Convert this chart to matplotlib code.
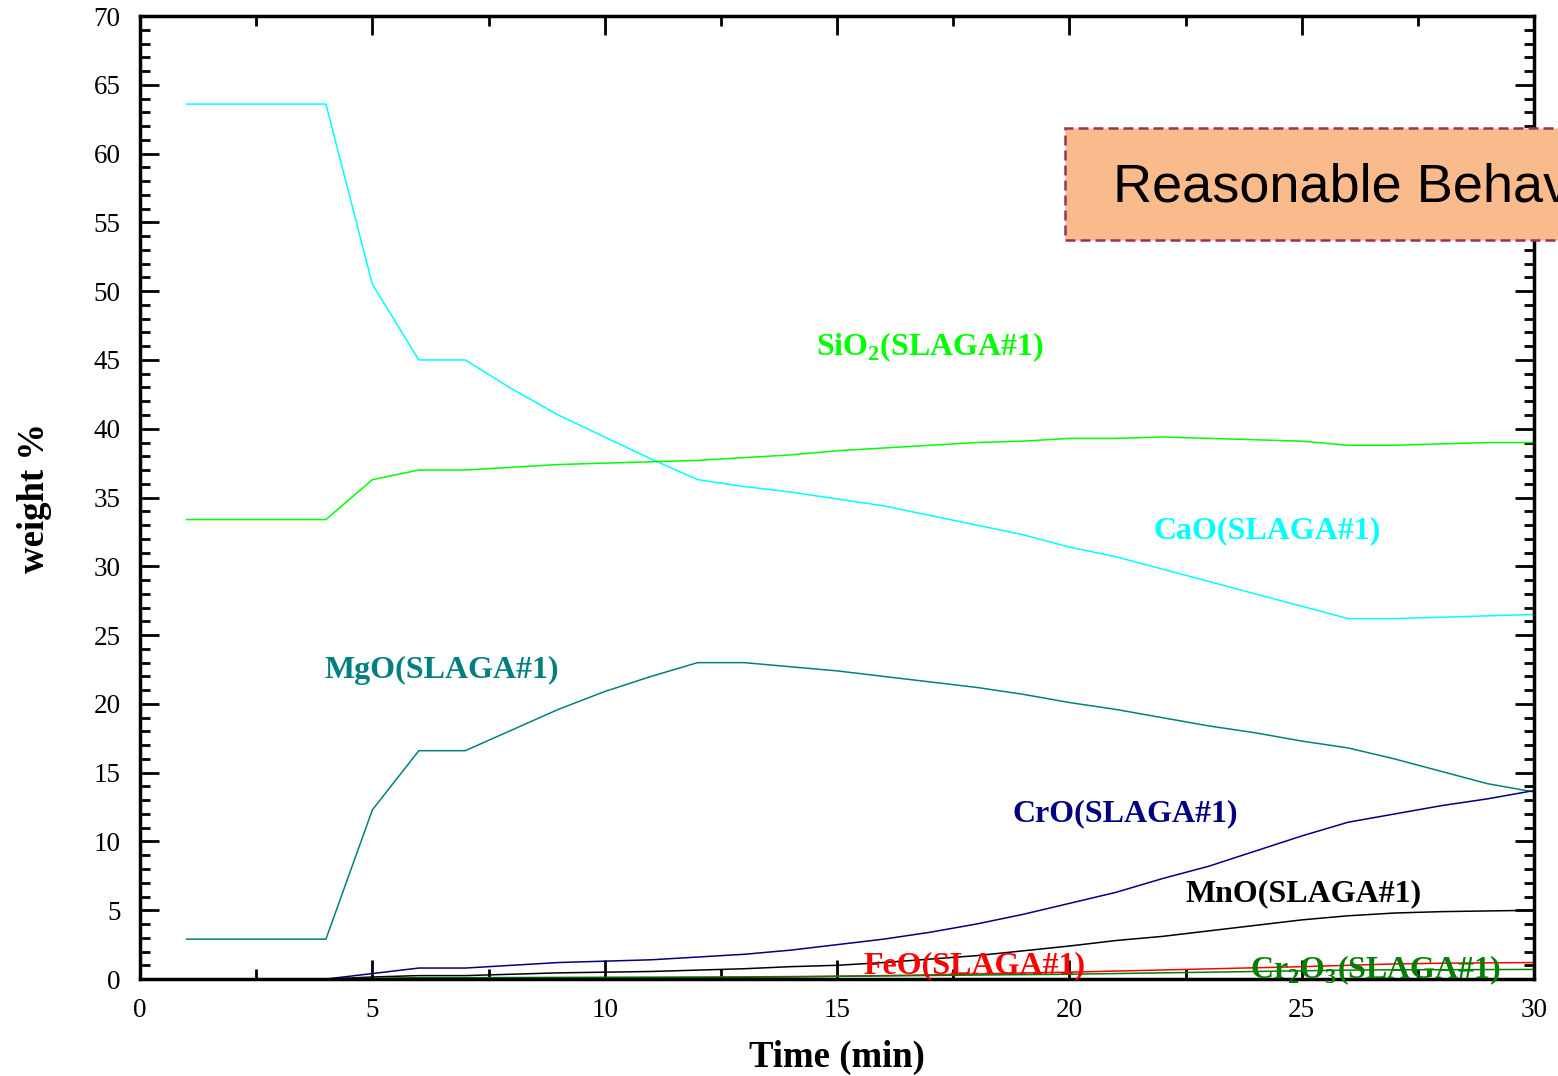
import matplotlib.pyplot as plt
from matplotlib.patches import Rectangle
from matplotlib.ticker import MultipleLocator

TIME = list(range(1, 31))

CAO = [63.6, 63.6, 63.6, 63.6, 50.5, 45.0, 45.0, 42.9, 41.0, 39.4,
       37.8, 36.3, 35.8, 35.4, 34.9, 34.4, 33.7, 33.0, 32.3, 31.4,
       30.7, 29.8, 28.9, 28.0, 27.1, 26.2, 26.2, 26.3, 26.4, 26.5]
SIO2 = [33.4, 33.4, 33.4, 33.4, 36.3, 37.0, 37.0, 37.2, 37.4, 37.5,
        37.6, 37.7, 37.9, 38.1, 38.4, 38.6, 38.8, 39.0, 39.1, 39.3,
        39.3, 39.4, 39.3, 39.2, 39.1, 38.8, 38.8, 38.9, 39.0, 39.0]
MGO = [2.9, 2.9, 2.9, 2.9, 12.3, 16.6, 16.6, 18.1, 19.6, 20.9,
       22.0, 23.0, 23.0, 22.7, 22.4, 22.0, 21.6, 21.2, 20.7, 20.1,
       19.6, 19.0, 18.4, 17.9, 17.3, 16.8, 16.0, 15.1, 14.2, 13.6]
CRO = [0.0, 0.0, 0.0, 0.0, 0.4, 0.8, 0.8, 1.0, 1.2, 1.3,
       1.4, 1.6, 1.8, 2.1, 2.5, 2.9, 3.4, 4.0, 4.7, 5.5,
       6.3, 7.3, 8.2, 9.3, 10.4, 11.4, 12.0, 12.6, 13.1, 13.7]
MNO = [0.0, 0.0, 0.0, 0.0, 0.15, 0.25, 0.25, 0.35, 0.45, 0.5,
       0.55, 0.65, 0.75, 0.9, 1.0, 1.2, 1.45, 1.7, 2.05, 2.4,
       2.8, 3.1, 3.5, 3.9, 4.3, 4.6, 4.8, 4.9, 4.95, 5.0]
FEO = [0.0, 0.0, 0.0, 0.0, 0.02, 0.05, 0.05, 0.06, 0.07, 0.08,
       0.09, 0.1, 0.12, 0.15, 0.2, 0.25, 0.3, 0.37, 0.44, 0.5,
       0.58, 0.66, 0.74, 0.82, 0.9, 1.0, 1.1, 1.15, 1.18, 1.2]
CR2O3 = [0.0, 0.0, 0.0, 0.0, 0.05, 0.1, 0.1, 0.11, 0.12, 0.13,
         0.14, 0.15, 0.16, 0.18, 0.2, 0.23, 0.26, 0.29, 0.32, 0.35,
         0.4, 0.45, 0.5, 0.55, 0.6, 0.65, 0.67, 0.68, 0.69, 0.7]

# (values, colour, label, label position in data coords)
SERIES = [
    (CAO, '#00ffff', 'CaO(SLAGA#1)', (24.25, 32.6)),
    (SIO2, '#00ff00', r'SiO$_\mathbf{2}$(SLAGA#1)', (17.0, 45.9)),
    (MGO, '#008080', 'MgO(SLAGA#1)', (6.5, 22.4)),
    (CRO, '#000080', 'CrO(SLAGA#1)', (21.2, 12.0)),
    (MNO, '#000000', 'MnO(SLAGA#1)', (25.05, 6.2)),
    (FEO, '#ff0000', 'FeO(SLAGA#1)', (17.95, 0.95)),
    (CR2O3, '#008000', r'Cr$_\mathbf{2}$O$_\mathbf{3}$(SLAGA#1)', (26.6, 0.65)),
]

plt.rcParams['font.family'] = ['Liberation Serif', 'DejaVu Serif']
plt.rcParams['mathtext.fontset'] = 'custom'
plt.rcParams['mathtext.rm'] = 'Liberation Serif'
plt.rcParams['mathtext.bf'] = 'Liberation Serif:bold'

fig = plt.figure(figsize=(15.58, 10.76), dpi=100)
ax = fig.add_axes([0.0899, 0.0901, 0.8947, 0.895])

for values, color, label, pos in SERIES:
    ax.plot(TIME, values, color=color, lw=1.1)
    ax.text(pos[0], pos[1], label, color=color, fontsize=23, fontweight='bold',
            ha='center', va='center')

ax.set_xlim(0, 30)
ax.set_ylim(0, 70)
ax.xaxis.set_major_locator(MultipleLocator(5))
ax.xaxis.set_minor_locator(MultipleLocator(2.5))
ax.yaxis.set_major_locator(MultipleLocator(5))
ax.yaxis.set_minor_locator(MultipleLocator(1))
ax.tick_params(which='both', direction='in', top=True, right=True, width=2,
               labelsize=19.5, pad=14)
ax.tick_params(which='major', length=14)
ax.tick_params(which='minor', length=7)
for sp in ax.spines.values():
    sp.set_linewidth(2.5)

ax.set_xlabel('Time (min)', fontsize=26.5, fontweight='bold', labelpad=12)
ax.set_ylabel('weight %', fontsize=26.5, fontweight='bold', labelpad=30)

# callout box running off the right edge
box = Rectangle((1065 / 1558, 1 - 240 / 1076), 0.4, 112 / 1076,
                transform=fig.transFigure, facecolor='#fabb8c',
                edgecolor='#993355', lw=1.8, ls=(0, (4, 2)), clip_on=False)
fig.add_artist(box)
fig.text(1113 / 1558, 1 - 187 / 1076, 'Reasonable Behavior', fontsize=39,
         family='Liberation Sans', va='center', ha='left')

fig.savefig('out.png', dpi=100)
